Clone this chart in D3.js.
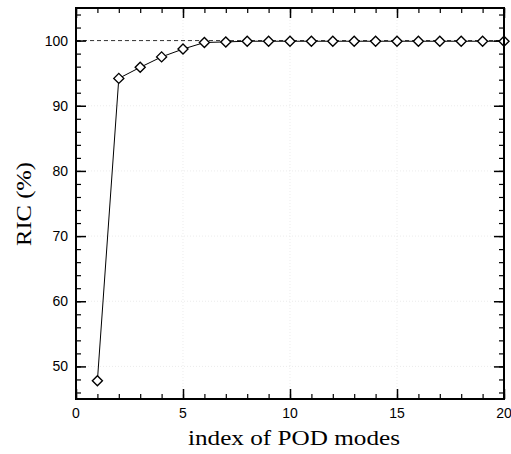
<!DOCTYPE html>
<html><head><meta charset="utf-8">
<script src="https://cdn.jsdelivr.net/npm/d3@7"></script>
<style>body{margin:0;background:#fff}</style>
</head><body>
<svg id="c" width="511" height="454"></svg>
<script>
const modes = [1,2,3,4,5,6,7,8,9,10,11,12,13,14,15,16,17,18,19,20];
const ric = [47.8,94.2,95.9,97.5,98.7,99.7,99.8,99.9,99.9,99.9,99.9,99.9,99.9,99.9,99.9,99.9,99.9,99.9,99.9,99.9];
const xTicks = [0,5,10,15,20];
const yTicks = [50,60,70,80,90,100];
const refValue = 100;

const svg = d3.select("#c");
const L=76,R=504,T=8,B=399;
const x = d3.scaleLinear().domain([0,20]).range([L,R]);
const y = d3.scaleLinear().domain([45,105]).range([B,T]);

// faint grid
const g = svg.append("g");
g.selectAll(".gx").data(xTicks.slice(1,-1)).join("line")
 .attr("x1",d=>x(d)).attr("x2",d=>x(d)).attr("y1",T).attr("y2",B)
 .attr("stroke","#e4e4e4").attr("stroke-width",0.7).attr("stroke-dasharray","1,2");
g.selectAll(".gy").data(yTicks).join("line")
 .attr("y1",d=>y(d)).attr("y2",d=>y(d)).attr("x1",L).attr("x2",R)
 .attr("stroke","#e4e4e4").attr("stroke-width",0.7).attr("stroke-dasharray","1,2");

const xMinor = d3.range(0,21,1), yMinor = d3.range(46,105,2);
function ticks(axisGen, pos, minorVals, majorVals){
  const a = svg.append("g").attr("transform",pos);
  a.call(axisGen.tickValues(minorVals).tickSize(-5).tickFormat(""));
  a.select(".domain").remove();
  a.selectAll("line").attr("stroke","#000").attr("stroke-width",1.2);
  const b = svg.append("g").attr("transform",pos);
  b.call(axisGen.tickValues(majorVals).tickSize(-10).tickFormat(""));
  b.select(".domain").remove();
  b.selectAll("line").attr("stroke","#000").attr("stroke-width",1.5);
}
ticks(d3.axisBottom(x), `translate(0,${B})`, xMinor, xTicks);
ticks(d3.axisTop(x), `translate(0,${T})`, xMinor, xTicks);
ticks(d3.axisLeft(y), `translate(${L},0)`, yMinor, yTicks);
ticks(d3.axisRight(y), `translate(${R},0)`, yMinor, yTicks);

svg.append("g").selectAll("text").data(xTicks).join("text")
 .attr("x",d=>x(d)).attr("y",418).attr("text-anchor","middle")
 .attr("font-family","Liberation Sans, Arial, sans-serif").attr("font-size",14).text(d=>d);
svg.append("g").selectAll("text").data(yTicks).join("text")
 .attr("x",68).attr("y",d=>y(d)+5).attr("text-anchor","end")
 .attr("font-family","Liberation Sans, Arial, sans-serif").attr("font-size",14).text(d=>d);

svg.append("line").attr("x1",x(0)).attr("x2",x(20)).attr("y1",y(refValue)).attr("y2",y(refValue))
 .attr("stroke","#000").attr("stroke-width",0.8).attr("stroke-dasharray","4,3");

const data = modes.map((m,i)=>({m,v:ric[i]}));
svg.append("path").datum(data).attr("fill","none").attr("stroke","#000").attr("stroke-width",1)
 .attr("d",d3.line().x(d=>x(d.m)).y(d=>y(d.v)));
svg.append("g").selectAll("path").data(data).join("path")
 .attr("transform",d=>`translate(${x(d.m)},${y(d.v)})`)
 .attr("d","M0,-5L5,0L0,5L-5,0Z").attr("fill","#fff").attr("stroke","#000").attr("stroke-width",1.4);

svg.append("rect").attr("x",L).attr("y",T).attr("width",R-L).attr("height",B-T)
 .attr("fill","none").attr("stroke","#000").attr("stroke-width",2);

svg.append("text").attr("x",294).attr("y",445).attr("text-anchor","middle")
 .attr("font-family","Liberation Serif, Times New Roman, serif").attr("font-size",21)
 .attr("textLength",212).attr("lengthAdjust","spacingAndGlyphs").text("index of POD modes");
svg.append("text").attr("transform",`translate(31,204) rotate(-90)`).attr("text-anchor","middle")
 .attr("font-family","Liberation Serif, Times New Roman, serif").attr("font-size",22)
 .attr("textLength",84).attr("lengthAdjust","spacingAndGlyphs").text("RIC (%)");
</script>
</body></html>
